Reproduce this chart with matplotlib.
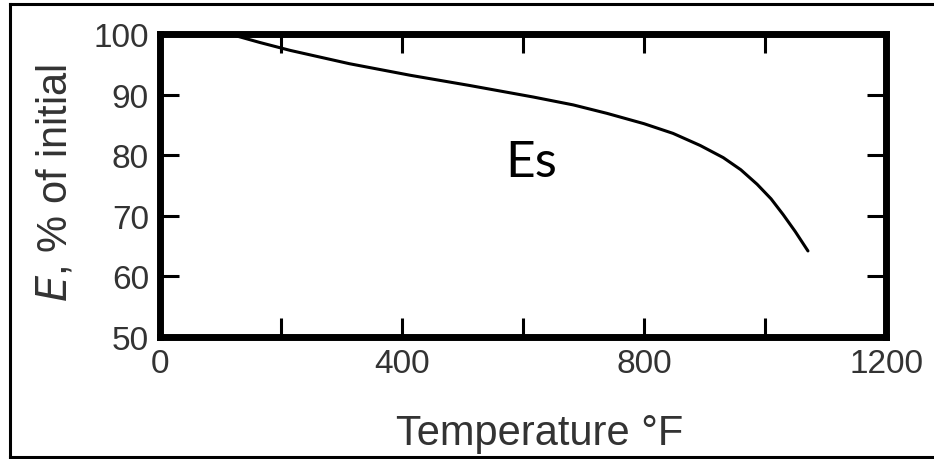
import matplotlib
matplotlib.use("Agg")
import matplotlib.pyplot as plt
from matplotlib.lines import Line2D

# curve (temperature in F, E in % of initial)
temp_f = [115, 165, 215, 313, 413, 512, 617, 683, 739, 800, 848, 893, 931,
          960, 987, 1010, 1030, 1050, 1071]
e_pct = [100.0, 98.6, 97.3, 95.1, 93.2, 91.5, 89.6, 88.3, 86.9, 85.2, 83.6,
         81.6, 79.6, 77.6, 75.2, 72.8, 70.2, 67.4, 64.2]

x_ticks = [0, 200, 400, 600, 800, 1000, 1200]
x_labels = ["0", "", "400", "", "800", "", "1200"]
y_ticks = [50, 60, 70, 80, 90, 100]

W, H = 934, 460
fam = ["Liberation Sans", "DejaVu Sans"]
fig = plt.figure(figsize=(W / 100, H / 100), dpi=100)
ax = fig.add_axes([160 / W, (H - 338) / H, 726 / W, 303 / H])

ax.plot(temp_f, e_pct, color="black", lw=2.2, solid_capstyle="round",
        solid_joinstyle="round")

ax.set_xlim(0, 1200)
ax.set_ylim(50, 100)
ax.set_xticks(x_ticks)
ax.set_xticklabels(x_labels)
ax.set_yticks(y_ticks)

for lab in ax.get_xticklabels() + ax.get_yticklabels():
    lab.set_fontfamily(fam)
    lab.set_fontsize(24)

ax.tick_params(direction="in", length=14, width=2.2, top=True, right=True,
               pad=8, colors="black", labelcolor="#333333")
for s in ax.spines.values():
    s.set_linewidth(5)

ax.set_xlabel("Temperature °F", family=fam, size=30, color="#333333")
ax.set_ylabel("$\\mathit{E}$, % of initial", family=fam, size=30, color="#333333")
ax.xaxis.set_label_coords(0.523, -0.25)
ax.yaxis.set_label_coords(-0.117, 0.512)

ax.text(614, 78.8, "Es", family=["Lato", "DejaVu Sans"], size=37,
        color="black", ha="center", va="center")

# frame round the whole picture
for xs, ys in [([10 / W, 10 / W], [2 / H, 1 - 5 / H]),
               ([10 / W, 1.0], [1 - 5 / H, 1 - 5 / H]),
               ([10 / W, 1.0], [1 - 458 / H, 1 - 458 / H])]:
    fig.add_artist(Line2D(xs, ys, transform=fig.transFigure, color="black", lw=2.2))

fig.savefig("out.png", dpi=100)
